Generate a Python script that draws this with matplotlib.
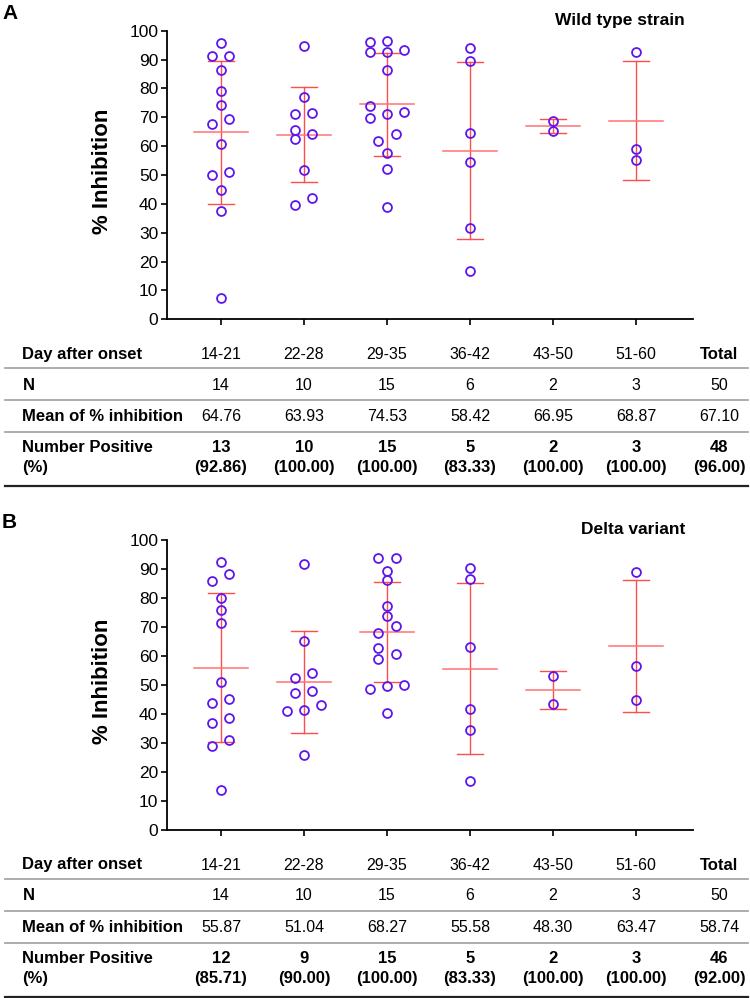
import numpy as np
import matplotlib.pyplot as plt
from matplotlib import transforms

plt.rcParams['font.family'] = ['Liberation Sans', 'DejaVu Sans']

W, H = 750, 998

# Значения
days = ['14-21', '22-28', '29-35', '36-42', '43-50', '51-60']
columns = days + ['Total']

wt_1421 = [95.6, 91.2, 91.2, 86.4, 79.2, 74.1, 69.5, 67.7, 60.7, 51.0, 50.1, 44.7, 37.6, 7.3]
wt_2228 = [94.6, 76.9, 71.5, 71.2, 65.7, 64.1, 62.5, 51.8, 42.0, 39.5]
wt_2935 = [96.4, 96.1, 93.4, 92.6, 92.6, 86.4, 73.8, 71.9, 71.0, 69.7, 64.1, 61.9, 57.5, 52.0, 38.9]
wt_3642 = [94.0, 89.4, 64.5, 54.4, 31.5, 16.9]
wt_4350 = [68.6, 65.3]
wt_5160 = [92.5, 59.0, 55.1]
wild_type = [wt_1421, wt_2228, wt_2935, wt_3642, wt_4350, wt_5160]

dl_1421 = [92.4, 88.2, 85.9, 79.9, 75.9, 71.3, 50.9, 45.2, 43.9, 38.5, 36.8, 31.0, 29.1, 13.7]
dl_2228 = [91.7, 65.3, 54.3, 52.3, 48.0, 47.1, 43.1, 41.5, 41.0, 26.0]
dl_2935 = [93.8, 93.8, 89.4, 86.2, 77.2, 73.9, 70.3, 68.0, 62.9, 60.7, 59.1, 50.0, 49.5, 48.6, 40.2]
dl_3642 = [90.3, 86.7, 63.1, 41.8, 34.6, 17.0]
dl_4350 = [53.0, 43.6]
dl_5160 = [88.9, 56.5, 45.0]
delta = [dl_1421, dl_2228, dl_2935, dl_3642, dl_4350, dl_5160]

wt_n = ['14', '10', '15', '6', '2', '3', '50']
wt_mean = ['64.76', '63.93', '74.53', '58.42', '66.95', '68.87', '67.10']
wt_pos = ['13', '10', '15', '5', '2', '3', '48']
wt_pct = ['(92.86)', '(100.00)', '(100.00)', '(83.33)', '(100.00)', '(100.00)', '(96.00)']

dl_n = ['14', '10', '15', '6', '2', '3', '50']
dl_mean = ['55.87', '51.04', '68.27', '55.58', '48.30', '63.47', '58.74']
dl_pos = ['12', '9', '15', '5', '2', '3', '46']
dl_pct = ['(85.71)', '(90.00)', '(100.00)', '(83.33)', '(100.00)', '(100.00)', '(92.00)']

point_color = '#5E17EB'
bar_color = '#FF4D4D'
mean_color = '#FF7373'


def fx(x):
    return x / W


def fy(y):
    return 1 - y / H


# Раскладка точек по горизонтали (как в Prism): близкие значения разводятся по колонкам
def swarm_offsets(values, gap=2.9, step=0.205):
    vals = np.asarray(values, dtype=float)
    order = np.argsort(vals, kind='stable')
    offsets = np.zeros(len(vals))
    clusters = []
    cur = [order[0]]
    for i in order[1:]:
        if vals[i] - vals[cur[-1]] < gap:
            cur.append(i)
        else:
            clusters.append(cur)
            cur = [i]
    clusters.append(cur)
    for cl in clusters:
        if len(cl) == 1:
            continue
        for k in range(2, len(cl) + 1):
            cols = [[] for _ in range(k)]
            for j, idx in enumerate(cl):
                cols[j % k].append(idx)
            ok = all(vals[c[m + 1]] - vals[c[m]] >= gap
                     for c in cols for m in range(len(c) - 1))
            if ok:
                break
        for j, c in enumerate(cols):
            for idx in c:
                offsets[idx] = (j - (k - 1) / 2) * step
    return offsets


def draw_panel(fig, top, bottom, groups, title, letter, n, mean, pos, pct):
    left, right = 166.7, 692.7
    ax = fig.add_axes([fx(left), fy(bottom), fx(right - left), (bottom - top) / H])
    pos_x = np.arange(1, len(groups) + 1)

    for x, vals in zip(pos_x, groups):
        vals = np.array(vals)
        m = vals.mean()
        sd = vals.std(ddof=1)
        ax.plot([x, x], [m - sd, m + sd], color=bar_color, lw=1.0, zorder=2)
        for yy in (m - sd, m + sd):
            ax.plot([x - 0.157, x + 0.157], [yy, yy], color=bar_color, lw=1.0, zorder=2)
        ax.plot([x - 0.33, x + 0.33], [m, m], color=mean_color, lw=1.1, zorder=2)
        ax.plot(x + swarm_offsets(vals), vals, 'o', ms=6.4, mfc='none',
                mec=point_color, mew=1.3, zorder=3)

    ax.set_xlim(0.346, 6.683)
    ax.set_ylim(0, 100)
    ax.set_yticks(np.arange(0, 101, 10))
    ax.set_xticks(pos_x)
    ax.set_xticklabels([])
    for s in ('top', 'right'):
        ax.spines[s].set_visible(False)
    for s in ('left', 'bottom'):
        ax.spines[s].set_linewidth(1.3)
    ax.tick_params(axis='both', direction='out', length=4, width=1.2, labelsize=12.5, pad=2)
    ax.patch.set_alpha(0)

    fig.text(fx(685), fy(top - 10), title, ha='right', va='center',
             fontsize=12.5, fontweight='bold')
    fig.text(fx(103), fy((top + bottom) / 2 - 4), '% Inhibition', rotation=90,
             ha='center', va='center', fontsize=16, fontweight='bold')
    fig.text(fx(2), fy(top - 17), letter, ha='left', va='center',
             fontsize=15, fontweight='bold')

    # Таблица под графиком
    trans = transforms.blended_transform_factory(ax.transData, fig.transFigure)
    rows_y = [bottom + d for d in (35, 66, 97.5, 128.5, 148)]
    labels = ['Day after onset', 'N', 'Mean of % inhibition', 'Number Positive', '(%)']
    for lab, yy in zip(labels, rows_y):
        fig.text(fx(22.5), fy(yy), lab, ha='left', va='center', fontsize=12,
                 fontweight='bold')
    col_x = np.arange(1, len(columns) + 1)
    for j, x in enumerate(col_x):
        is_total = columns[j] == 'Total'
        ax.text(x, fy(rows_y[0]), columns[j], transform=trans, ha='center', va='center',
                fontsize=12 if is_total else 11.5,
                fontweight='bold' if is_total else 'normal', clip_on=False)
        ax.text(x, fy(rows_y[1]), n[j], transform=trans, ha='center', va='center',
                fontsize=11.5, clip_on=False)
        ax.text(x, fy(rows_y[2]), mean[j], transform=trans, ha='center', va='center',
                fontsize=11.5, clip_on=False)
        ax.text(x, fy(rows_y[3]), pos[j], transform=trans, ha='center', va='center',
                fontsize=12, fontweight='bold', clip_on=False)
        ax.text(x, fy(rows_y[4]), pct[j], transform=trans, ha='center', va='center',
                fontsize=12, fontweight='bold', clip_on=False)
    for d in (49, 80.7, 112.7):
        fig.add_artist(plt.Line2D([fx(5), fx(748)], [fy(bottom + d)] * 2,
                                  color='#a6a6a6', lw=1.3))
    fig.add_artist(plt.Line2D([fx(5), fx(748)], [fy(bottom + 167)] * 2,
                              color='#222222', lw=1.6))
    return ax


fig = plt.figure(figsize=(7.5, 9.98), dpi=100)
draw_panel(fig, 30.7, 319.3, wild_type, 'Wild type strain', 'A', wt_n, wt_mean, wt_pos, wt_pct)
draw_panel(fig, 540, 830, delta, 'Delta variant', 'B', dl_n, dl_mean, dl_pos, dl_pct)

fig.savefig('out.png', dpi=100)
